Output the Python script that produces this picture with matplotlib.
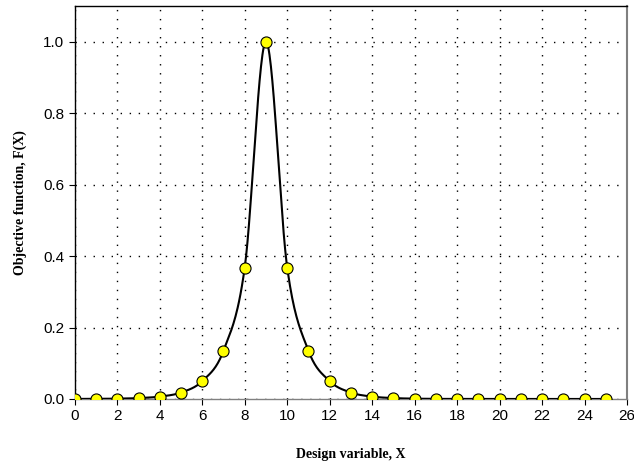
import numpy as np
import matplotlib.pyplot as plt

# ====== DATA ======
x_vals = list(range(0, 26))
f_vals = [0.0001, 0.0003, 0.0009, 0.0025, 0.0067, 0.018, 0.050, 0.135, 0.368, 1.000,
          0.368, 0.135, 0.050, 0.018, 0.0067, 0.0025, 0.0009, 0.0003, 0.0001, 0.0000,
          0.0000, 0.0000, 0.0000, 0.0000, 0.0000, 0.0000]
x_ticks = list(range(0, 27, 2))
y_ticks = [0.0, 0.2, 0.4, 0.6, 0.8, 1.0]


# smooth line through the points (Catmull-Rom, like a spreadsheet "smoothed line")
def smooth(xs, ys, n=30):
    xs = np.asarray(xs, float)
    ys = np.asarray(ys, float)
    px = np.concatenate([[2 * xs[0] - xs[1]], xs, [2 * xs[-1] - xs[-2]]])
    py = np.concatenate([[2 * ys[0] - ys[1]], ys, [2 * ys[-1] - ys[-2]]])
    t = np.linspace(0, 1, n, endpoint=False)
    out_x, out_y = [], []
    for i in range(1, len(px) - 2):
        for p, out in ((px, out_x), (py, out_y)):
            p0, p1, p2, p3 = p[i - 1], p[i], p[i + 1], p[i + 2]
            out.append(0.5 * (2 * p1 + (-p0 + p2) * t
                              + (2 * p0 - 5 * p1 + 4 * p2 - p3) * t ** 2
                              + (-p0 + 3 * p1 - 3 * p2 + p3) * t ** 3))
    out_x.append([xs[-1]])
    out_y.append([ys[-1]])
    return np.concatenate(out_x), np.concatenate(out_y)


sx, sy = smooth(x_vals, f_vals)

# ====== PLOT ======
fig = plt.figure(figsize=(6.34, 4.65), dpi=100)
ax = fig.add_axes([0.118, 0.142, 0.871, 0.845])

ax.plot(sx, sy, color="black", lw=1.5, zorder=3)
ax.plot(x_vals, f_vals, ls="none", marker="o", ms=8, mfc="#ffff00", mec="black",
        mew=0.8, zorder=4)

ax.set_xlim(0, 26)
ax.set_ylim(0, 1.1)
ax.set_xticks(x_ticks)
ax.set_yticks(y_ticks)
ax.set_yticklabels([f"{v:.1f}" for v in y_ticks])
ax.tick_params(labelsize=11, length=4, width=0.8, direction="out")
for lab in ax.get_xticklabels() + ax.get_yticklabels():
    lab.set_family("Liberation Sans")

ax.grid(True, ls=(0, (1, 5.5)), color="black", lw=1.0)
ax.spines["left"].set_color("black")
ax.spines["top"].set_color("black")
ax.spines["right"].set_color("#808080")
ax.spines["bottom"].set_color("#808080")
for s in ax.spines.values():
    s.set_linewidth(1.0)
ax.spines["right"].set_linewidth(1.5)

ax.set_xlabel("Design variable, X", family="Liberation Serif", weight="bold",
              fontsize=10, labelpad=18)
ax.set_ylabel("Objective function, F(X)", family="Liberation Serif", weight="bold",
              fontsize=10, labelpad=12)

fig.savefig("out.png", dpi=100)
